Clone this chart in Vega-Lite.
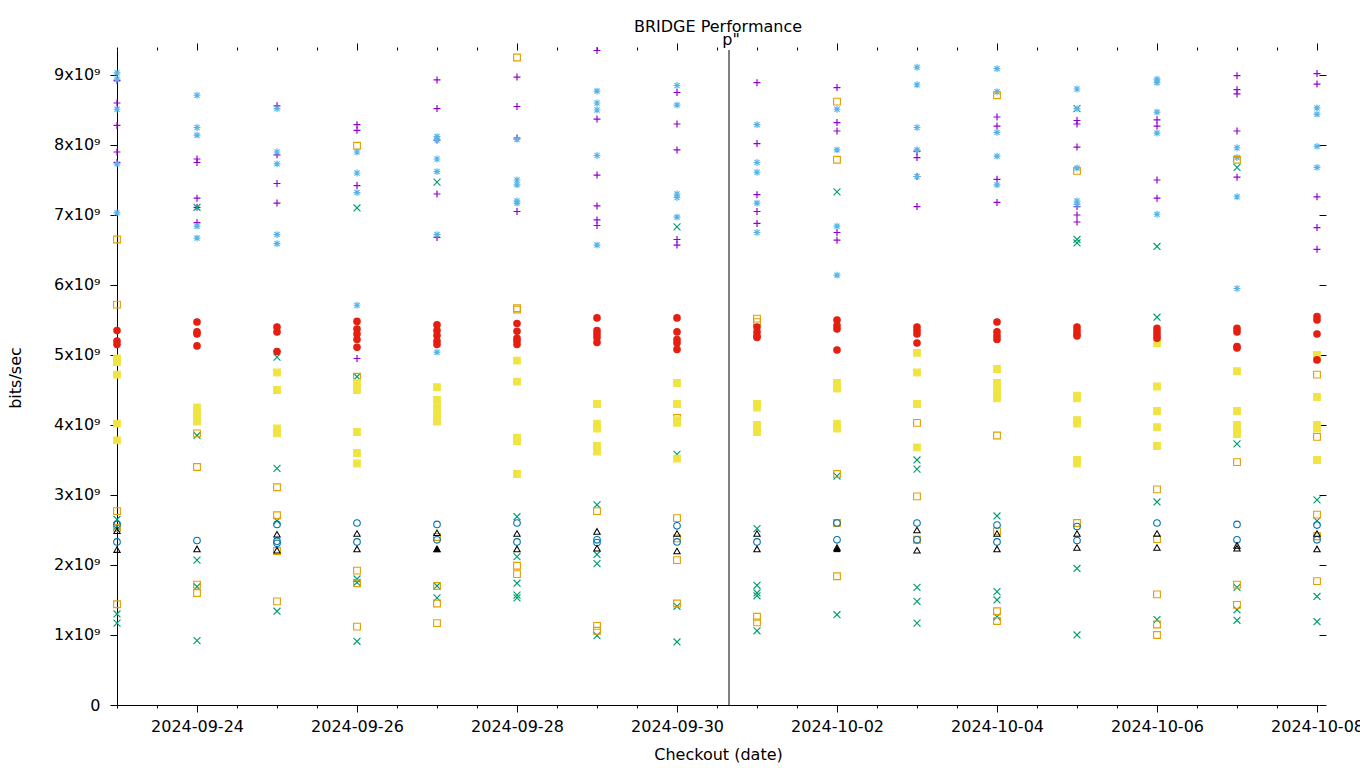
{
"$schema": "https://vega.github.io/schema/vega-lite/v6.json",
"width": 1202,
"height": 655,
"autosize": "none",
"padding": {"left": 117, "top": 50, "right": 41, "bottom": 63},
"title": {"text": "BRIDGE Performance", "frame": "group", "anchor": "middle", "offset": -16, "baseline": "alphabetic", "fontSize": 16, "fontWeight": "normal", "font": "DejaVu Sans", "color": "#000000"},
"config": {
  "view": {"stroke": null},
  "font": "DejaVu Sans",
  "axis": {"labelFont": "DejaVu Sans", "labelFontSize": 16, "labelColor": "#000000", "titleFont": "DejaVu Sans", "titleFontSize": 16, "titleFontWeight": "normal", "titleColor": "#000000", "domainColor": "#000000", "tickColor": "#000000", "grid": false, "domainWidth": 1, "tickWidth": 1}
},
"datasets": {
"pts": [
{"d":"2024-09-23","s":"P","v":8.92},{"d":"2024-09-23","s":"P","v":8.6},{"d":"2024-09-23","s":"P","v":8.28},{"d":"2024-09-23","s":"P","v":7.9},{"d":"2024-09-23","s":"P","v":7.75},
{"d":"2024-09-24","s":"P","v":7.8},{"d":"2024-09-24","s":"P","v":7.75},{"d":"2024-09-24","s":"P","v":7.24},{"d":"2024-09-24","s":"P","v":7.11},{"d":"2024-09-24","s":"P","v":6.89},
{"d":"2024-09-25","s":"P","v":8.56},{"d":"2024-09-25","s":"P","v":7.86},{"d":"2024-09-25","s":"P","v":7.45},{"d":"2024-09-25","s":"P","v":7.17},{"d":"2024-09-25","s":"P","v":5.05},
{"d":"2024-09-26","s":"P","v":8.29},{"d":"2024-09-26","s":"P","v":8.21},{"d":"2024-09-26","s":"P","v":7.42},{"d":"2024-09-26","s":"P","v":4.95},
{"d":"2024-09-27","s":"P","v":8.93},{"d":"2024-09-27","s":"P","v":8.52},{"d":"2024-09-27","s":"P","v":8.07},{"d":"2024-09-27","s":"P","v":7.3},{"d":"2024-09-27","s":"P","v":6.68},
{"d":"2024-09-28","s":"P","v":8.97},{"d":"2024-09-28","s":"P","v":8.55},{"d":"2024-09-28","s":"P","v":8.1},{"d":"2024-09-28","s":"P","v":7.05},
{"d":"2024-09-29","s":"P","v":9.35},{"d":"2024-09-29","s":"P","v":8.37},{"d":"2024-09-29","s":"P","v":7.57},{"d":"2024-09-29","s":"P","v":7.13},{"d":"2024-09-29","s":"P","v":6.93},{"d":"2024-09-29","s":"P","v":6.85},
{"d":"2024-09-30","s":"P","v":8.75},{"d":"2024-09-30","s":"P","v":8.3},{"d":"2024-09-30","s":"P","v":7.93},{"d":"2024-09-30","s":"P","v":6.65},{"d":"2024-09-30","s":"P","v":6.57},
{"d":"2024-10-01","s":"P","v":8.89},{"d":"2024-10-01","s":"P","v":8.02},{"d":"2024-10-01","s":"P","v":7.29},{"d":"2024-10-01","s":"P","v":7.05},{"d":"2024-10-01","s":"P","v":6.88},
{"d":"2024-10-02","s":"P","v":8.82},{"d":"2024-10-02","s":"P","v":8.32},{"d":"2024-10-02","s":"P","v":8.2},{"d":"2024-10-02","s":"P","v":6.75},{"d":"2024-10-02","s":"P","v":6.64},
{"d":"2024-10-03","s":"P","v":7.91},{"d":"2024-10-03","s":"P","v":7.82},{"d":"2024-10-03","s":"P","v":7.55},{"d":"2024-10-03","s":"P","v":7.12},
{"d":"2024-10-04","s":"P","v":8.4},{"d":"2024-10-04","s":"P","v":8.27},{"d":"2024-10-04","s":"P","v":7.51},{"d":"2024-10-04","s":"P","v":7.18},
{"d":"2024-10-05","s":"P","v":8.35},{"d":"2024-10-05","s":"P","v":8.3},{"d":"2024-10-05","s":"P","v":7.97},{"d":"2024-10-05","s":"P","v":7.12},{"d":"2024-10-05","s":"P","v":7.0},{"d":"2024-10-05","s":"P","v":6.9},
{"d":"2024-10-06","s":"P","v":8.36},{"d":"2024-10-06","s":"P","v":8.27},{"d":"2024-10-06","s":"P","v":7.5},{"d":"2024-10-06","s":"P","v":7.24},
{"d":"2024-10-07","s":"P","v":8.99},{"d":"2024-10-07","s":"P","v":8.79},{"d":"2024-10-07","s":"P","v":8.73},{"d":"2024-10-07","s":"P","v":8.2},{"d":"2024-10-07","s":"P","v":7.54},
{"d":"2024-10-08","s":"P","v":9.02},{"d":"2024-10-08","s":"P","v":8.87},{"d":"2024-10-08","s":"P","v":7.26},{"d":"2024-10-08","s":"P","v":6.82},{"d":"2024-10-08","s":"P","v":6.51},

{"d":"2024-09-23","s":"G","v":2.65},{"d":"2024-09-23","s":"G","v":2.55},{"d":"2024-09-23","s":"G","v":1.3},{"d":"2024-09-23","s":"G","v":1.17},
{"d":"2024-09-24","s":"G","v":7.11},{"d":"2024-09-24","s":"G","v":3.85},{"d":"2024-09-24","s":"G","v":2.07},{"d":"2024-09-24","s":"G","v":1.69},{"d":"2024-09-24","s":"G","v":0.92},
{"d":"2024-09-25","s":"G","v":4.97},{"d":"2024-09-25","s":"G","v":3.38},{"d":"2024-09-25","s":"G","v":2.63},{"d":"2024-09-25","s":"G","v":1.34},
{"d":"2024-09-26","s":"G","v":7.1},{"d":"2024-09-26","s":"G","v":4.69},{"d":"2024-09-26","s":"G","v":1.8},{"d":"2024-09-26","s":"G","v":1.75},{"d":"2024-09-26","s":"G","v":0.91},
{"d":"2024-09-27","s":"G","v":7.47},{"d":"2024-09-27","s":"G","v":1.7},{"d":"2024-09-27","s":"G","v":1.53},
{"d":"2024-09-28","s":"G","v":2.69},{"d":"2024-09-28","s":"G","v":2.12},{"d":"2024-09-28","s":"G","v":1.74},{"d":"2024-09-28","s":"G","v":1.57},{"d":"2024-09-28","s":"G","v":1.53},
{"d":"2024-09-29","s":"G","v":2.86},{"d":"2024-09-29","s":"G","v":2.15},{"d":"2024-09-29","s":"G","v":2.02},{"d":"2024-09-29","s":"G","v":0.99},
{"d":"2024-09-30","s":"G","v":6.83},{"d":"2024-09-30","s":"G","v":3.58},{"d":"2024-09-30","s":"G","v":1.41},{"d":"2024-09-30","s":"G","v":0.9},
{"d":"2024-10-01","s":"G","v":2.52},{"d":"2024-10-01","s":"G","v":1.71},{"d":"2024-10-01","s":"G","v":1.6},{"d":"2024-10-01","s":"G","v":1.56},{"d":"2024-10-01","s":"G","v":1.06},
{"d":"2024-10-02","s":"G","v":7.33},{"d":"2024-10-02","s":"G","v":3.27},{"d":"2024-10-02","s":"G","v":1.29},
{"d":"2024-10-03","s":"G","v":3.5},{"d":"2024-10-03","s":"G","v":3.37},{"d":"2024-10-03","s":"G","v":1.68},{"d":"2024-10-03","s":"G","v":1.48},{"d":"2024-10-03","s":"G","v":1.17},
{"d":"2024-10-04","s":"G","v":2.7},{"d":"2024-10-04","s":"G","v":1.62},{"d":"2024-10-04","s":"G","v":1.5},{"d":"2024-10-04","s":"G","v":1.26},
{"d":"2024-10-05","s":"G","v":8.52},{"d":"2024-10-05","s":"G","v":6.65},{"d":"2024-10-05","s":"G","v":6.6},{"d":"2024-10-05","s":"G","v":1.95},{"d":"2024-10-05","s":"G","v":1.0},
{"d":"2024-10-06","s":"G","v":6.55},{"d":"2024-10-06","s":"G","v":5.54},{"d":"2024-10-06","s":"G","v":2.9},{"d":"2024-10-06","s":"G","v":1.22},
{"d":"2024-10-07","s":"G","v":7.68},{"d":"2024-10-07","s":"G","v":3.73},{"d":"2024-10-07","s":"G","v":1.68},{"d":"2024-10-07","s":"G","v":1.36},{"d":"2024-10-07","s":"G","v":1.21},
{"d":"2024-10-08","s":"G","v":2.93},{"d":"2024-10-08","s":"G","v":2.63},{"d":"2024-10-08","s":"G","v":1.55},{"d":"2024-10-08","s":"G","v":1.19},

{"d":"2024-09-23","s":"C","v":9.03},{"d":"2024-09-23","s":"C","v":8.94},{"d":"2024-09-23","s":"C","v":8.51},{"d":"2024-09-23","s":"C","v":7.73},{"d":"2024-09-23","s":"C","v":7.03},
{"d":"2024-09-24","s":"C","v":8.71},{"d":"2024-09-24","s":"C","v":8.25},{"d":"2024-09-24","s":"C","v":8.14},{"d":"2024-09-24","s":"C","v":6.84},{"d":"2024-09-24","s":"C","v":6.67},
{"d":"2024-09-25","s":"C","v":8.52},{"d":"2024-09-25","s":"C","v":7.9},{"d":"2024-09-25","s":"C","v":7.73},{"d":"2024-09-25","s":"C","v":6.72},{"d":"2024-09-25","s":"C","v":6.59},
{"d":"2024-09-26","s":"C","v":7.9},{"d":"2024-09-26","s":"C","v":7.6},{"d":"2024-09-26","s":"C","v":7.32},{"d":"2024-09-26","s":"C","v":5.71},
{"d":"2024-09-27","s":"C","v":8.12},{"d":"2024-09-27","s":"C","v":8.07},{"d":"2024-09-27","s":"C","v":7.8},{"d":"2024-09-27","s":"C","v":7.62},{"d":"2024-09-27","s":"C","v":6.72},{"d":"2024-09-27","s":"C","v":5.04},
{"d":"2024-09-28","s":"C","v":8.08},{"d":"2024-09-28","s":"C","v":7.5},{"d":"2024-09-28","s":"C","v":7.43},{"d":"2024-09-28","s":"C","v":7.2},{"d":"2024-09-28","s":"C","v":7.17},
{"d":"2024-09-29","s":"C","v":8.77},{"d":"2024-09-29","s":"C","v":8.6},{"d":"2024-09-29","s":"C","v":8.5},{"d":"2024-09-29","s":"C","v":7.85},{"d":"2024-09-29","s":"C","v":6.57},
{"d":"2024-09-30","s":"C","v":8.85},{"d":"2024-09-30","s":"C","v":8.57},{"d":"2024-09-30","s":"C","v":7.3},{"d":"2024-09-30","s":"C","v":7.25},{"d":"2024-09-30","s":"C","v":6.97},
{"d":"2024-10-01","s":"C","v":8.29},{"d":"2024-10-01","s":"C","v":7.75},{"d":"2024-10-01","s":"C","v":7.61},{"d":"2024-10-01","s":"C","v":7.17},{"d":"2024-10-01","s":"C","v":6.75},
{"d":"2024-10-02","s":"C","v":8.51},{"d":"2024-10-02","s":"C","v":7.93},{"d":"2024-10-02","s":"C","v":6.84},{"d":"2024-10-02","s":"C","v":6.14},
{"d":"2024-10-03","s":"C","v":9.11},{"d":"2024-10-03","s":"C","v":8.86},{"d":"2024-10-03","s":"C","v":8.25},{"d":"2024-10-03","s":"C","v":7.93},{"d":"2024-10-03","s":"C","v":7.55},
{"d":"2024-10-04","s":"C","v":9.09},{"d":"2024-10-04","s":"C","v":8.76},{"d":"2024-10-04","s":"C","v":8.18},{"d":"2024-10-04","s":"C","v":7.84},{"d":"2024-10-04","s":"C","v":7.43},
{"d":"2024-10-05","s":"C","v":8.8},{"d":"2024-10-05","s":"C","v":8.52},{"d":"2024-10-05","s":"C","v":7.67},{"d":"2024-10-05","s":"C","v":7.2},{"d":"2024-10-05","s":"C","v":7.15},
{"d":"2024-10-06","s":"C","v":8.94},{"d":"2024-10-06","s":"C","v":8.89},{"d":"2024-10-06","s":"C","v":8.47},{"d":"2024-10-06","s":"C","v":8.17},{"d":"2024-10-06","s":"C","v":7.01},
{"d":"2024-10-07","s":"C","v":7.96},{"d":"2024-10-07","s":"C","v":7.82},{"d":"2024-10-07","s":"C","v":7.26},{"d":"2024-10-07","s":"C","v":5.95},
{"d":"2024-10-08","s":"C","v":8.53},{"d":"2024-10-08","s":"C","v":8.44},{"d":"2024-10-08","s":"C","v":7.98},{"d":"2024-10-08","s":"C","v":7.68},

{"d":"2024-09-23","s":"O","v":6.65},{"d":"2024-09-23","s":"O","v":5.72},{"d":"2024-09-23","s":"O","v":2.77},{"d":"2024-09-23","s":"O","v":2.53},{"d":"2024-09-23","s":"O","v":1.44},
{"d":"2024-09-24","s":"O","v":3.88},{"d":"2024-09-24","s":"O","v":3.4},{"d":"2024-09-24","s":"O","v":1.72},{"d":"2024-09-24","s":"O","v":1.6},
{"d":"2024-09-25","s":"O","v":3.11},{"d":"2024-09-25","s":"O","v":2.71},{"d":"2024-09-25","s":"O","v":2.2},{"d":"2024-09-25","s":"O","v":1.48},
{"d":"2024-09-26","s":"O","v":7.99},{"d":"2024-09-26","s":"O","v":4.69},{"d":"2024-09-26","s":"O","v":1.92},{"d":"2024-09-26","s":"O","v":1.74},{"d":"2024-09-26","s":"O","v":1.12},
{"d":"2024-09-27","s":"O","v":2.4},{"d":"2024-09-27","s":"O","v":1.7},{"d":"2024-09-27","s":"O","v":1.45},{"d":"2024-09-27","s":"O","v":1.17},
{"d":"2024-09-28","s":"O","v":9.25},{"d":"2024-09-28","s":"O","v":5.67},{"d":"2024-09-28","s":"O","v":5.65},{"d":"2024-09-28","s":"O","v":1.99},{"d":"2024-09-28","s":"O","v":1.87},
{"d":"2024-09-29","s":"O","v":2.77},{"d":"2024-09-29","s":"O","v":1.13},{"d":"2024-09-29","s":"O","v":1.06},
{"d":"2024-09-30","s":"O","v":4.1},{"d":"2024-09-30","s":"O","v":2.67},{"d":"2024-09-30","s":"O","v":2.38},{"d":"2024-09-30","s":"O","v":2.07},{"d":"2024-09-30","s":"O","v":1.45},
{"d":"2024-10-01","s":"O","v":5.52},{"d":"2024-10-01","s":"O","v":5.47},{"d":"2024-10-01","s":"O","v":1.26},{"d":"2024-10-01","s":"O","v":1.18},
{"d":"2024-10-02","s":"O","v":8.62},{"d":"2024-10-02","s":"O","v":7.79},{"d":"2024-10-02","s":"O","v":3.3},{"d":"2024-10-02","s":"O","v":2.6},{"d":"2024-10-02","s":"O","v":1.84},
{"d":"2024-10-03","s":"O","v":4.03},{"d":"2024-10-03","s":"O","v":2.98},{"d":"2024-10-03","s":"O","v":2.36},
{"d":"2024-10-04","s":"O","v":8.71},{"d":"2024-10-04","s":"O","v":3.85},{"d":"2024-10-04","s":"O","v":2.48},{"d":"2024-10-04","s":"O","v":1.34},{"d":"2024-10-04","s":"O","v":1.2},
{"d":"2024-10-05","s":"O","v":7.63},{"d":"2024-10-05","s":"O","v":2.6},
{"d":"2024-10-06","s":"O","v":3.08},{"d":"2024-10-06","s":"O","v":2.37},{"d":"2024-10-06","s":"O","v":1.58},{"d":"2024-10-06","s":"O","v":1.15},{"d":"2024-10-06","s":"O","v":1.0},
{"d":"2024-10-07","s":"O","v":7.79},{"d":"2024-10-07","s":"O","v":3.47},{"d":"2024-10-07","s":"O","v":1.72},{"d":"2024-10-07","s":"O","v":1.43},
{"d":"2024-10-08","s":"O","v":4.72},{"d":"2024-10-08","s":"O","v":3.83},{"d":"2024-10-08","s":"O","v":2.72},{"d":"2024-10-08","s":"O","v":2.41},{"d":"2024-10-08","s":"O","v":1.77},

{"d":"2024-09-23","s":"Y","v":4.95},{"d":"2024-09-23","s":"Y","v":4.9},{"d":"2024-09-23","s":"Y","v":4.72},{"d":"2024-09-23","s":"Y","v":4.02},{"d":"2024-09-23","s":"Y","v":3.78},
{"d":"2024-09-24","s":"Y","v":4.25},{"d":"2024-09-24","s":"Y","v":4.18},{"d":"2024-09-24","s":"Y","v":4.1},{"d":"2024-09-24","s":"Y","v":4.05},
{"d":"2024-09-25","s":"Y","v":4.75},{"d":"2024-09-25","s":"Y","v":4.5},{"d":"2024-09-25","s":"Y","v":3.95},{"d":"2024-09-25","s":"Y","v":3.88},
{"d":"2024-09-26","s":"Y","v":4.6},{"d":"2024-09-26","s":"Y","v":4.5},{"d":"2024-09-26","s":"Y","v":3.9},{"d":"2024-09-26","s":"Y","v":3.6},{"d":"2024-09-26","s":"Y","v":3.45},
{"d":"2024-09-27","s":"Y","v":4.54},{"d":"2024-09-27","s":"Y","v":4.36},{"d":"2024-09-27","s":"Y","v":4.25},{"d":"2024-09-27","s":"Y","v":4.15},{"d":"2024-09-27","s":"Y","v":4.05},
{"d":"2024-09-28","s":"Y","v":4.92},{"d":"2024-09-28","s":"Y","v":4.62},{"d":"2024-09-28","s":"Y","v":3.82},{"d":"2024-09-28","s":"Y","v":3.77},{"d":"2024-09-28","s":"Y","v":3.3},
{"d":"2024-09-29","s":"Y","v":4.3},{"d":"2024-09-29","s":"Y","v":4.02},{"d":"2024-09-29","s":"Y","v":3.95},{"d":"2024-09-29","s":"Y","v":3.7},{"d":"2024-09-29","s":"Y","v":3.62},
{"d":"2024-09-30","s":"Y","v":4.6},{"d":"2024-09-30","s":"Y","v":4.3},{"d":"2024-09-30","s":"Y","v":4.07},{"d":"2024-09-30","s":"Y","v":4.03},{"d":"2024-09-30","s":"Y","v":3.52},
{"d":"2024-10-01","s":"Y","v":4.3},{"d":"2024-10-01","s":"Y","v":4.25},{"d":"2024-10-01","s":"Y","v":4.0},{"d":"2024-10-01","s":"Y","v":3.95},{"d":"2024-10-01","s":"Y","v":3.9},
{"d":"2024-10-02","s":"Y","v":4.6},{"d":"2024-10-02","s":"Y","v":4.52},{"d":"2024-10-02","s":"Y","v":4.02},{"d":"2024-10-02","s":"Y","v":3.95},
{"d":"2024-10-03","s":"Y","v":5.03},{"d":"2024-10-03","s":"Y","v":4.75},{"d":"2024-10-03","s":"Y","v":4.3},{"d":"2024-10-03","s":"Y","v":3.68},
{"d":"2024-10-04","s":"Y","v":4.8},{"d":"2024-10-04","s":"Y","v":4.6},{"d":"2024-10-04","s":"Y","v":4.52},{"d":"2024-10-04","s":"Y","v":4.42},{"d":"2024-10-04","s":"Y","v":4.38},
{"d":"2024-10-05","s":"Y","v":4.42},{"d":"2024-10-05","s":"Y","v":4.38},{"d":"2024-10-05","s":"Y","v":4.07},{"d":"2024-10-05","s":"Y","v":4.02},{"d":"2024-10-05","s":"Y","v":3.5},{"d":"2024-10-05","s":"Y","v":3.45},
{"d":"2024-10-06","s":"Y","v":5.17},{"d":"2024-10-06","s":"Y","v":4.55},{"d":"2024-10-06","s":"Y","v":4.2},{"d":"2024-10-06","s":"Y","v":3.97},{"d":"2024-10-06","s":"Y","v":3.7},
{"d":"2024-10-07","s":"Y","v":4.77},{"d":"2024-10-07","s":"Y","v":4.2},{"d":"2024-10-07","s":"Y","v":4.0},{"d":"2024-10-07","s":"Y","v":3.93},{"d":"2024-10-07","s":"Y","v":3.87},
{"d":"2024-10-08","s":"Y","v":5.0},{"d":"2024-10-08","s":"Y","v":4.95},{"d":"2024-10-08","s":"Y","v":4.4},{"d":"2024-10-08","s":"Y","v":4.0},{"d":"2024-10-08","s":"Y","v":3.95},{"d":"2024-10-08","s":"Y","v":3.5},

{"d":"2024-09-23","s":"B","v":2.58},{"d":"2024-09-23","s":"B","v":2.33},
{"d":"2024-09-24","s":"B","v":2.35},
{"d":"2024-09-25","s":"B","v":2.58},{"d":"2024-09-25","s":"B","v":2.34},{"d":"2024-09-25","s":"B","v":2.31},
{"d":"2024-09-26","s":"B","v":2.6},{"d":"2024-09-26","s":"B","v":2.33},
{"d":"2024-09-27","s":"B","v":2.58},{"d":"2024-09-27","s":"B","v":2.36},
{"d":"2024-09-28","s":"B","v":2.6},{"d":"2024-09-28","s":"B","v":2.33},
{"d":"2024-09-29","s":"B","v":2.36},{"d":"2024-09-29","s":"B","v":2.32},
{"d":"2024-09-30","s":"B","v":2.56},{"d":"2024-09-30","s":"B","v":2.33},
{"d":"2024-10-01","s":"B","v":2.33},
{"d":"2024-10-02","s":"B","v":2.6},{"d":"2024-10-02","s":"B","v":2.36},
{"d":"2024-10-03","s":"B","v":2.6},{"d":"2024-10-03","s":"B","v":2.36},
{"d":"2024-10-04","s":"B","v":2.57},{"d":"2024-10-04","s":"B","v":2.33},
{"d":"2024-10-05","s":"B","v":2.55},{"d":"2024-10-05","s":"B","v":2.35},
{"d":"2024-10-06","s":"B","v":2.6},
{"d":"2024-10-07","s":"B","v":2.58},{"d":"2024-10-07","s":"B","v":2.36},
{"d":"2024-10-08","s":"B","v":2.57},{"d":"2024-10-08","s":"B","v":2.36},

{"d":"2024-09-23","s":"R","v":5.35},{"d":"2024-09-23","s":"R","v":5.2},{"d":"2024-09-23","s":"R","v":5.15},
{"d":"2024-09-24","s":"R","v":5.47},{"d":"2024-09-24","s":"R","v":5.33},{"d":"2024-09-24","s":"R","v":5.3},{"d":"2024-09-24","s":"R","v":5.13},
{"d":"2024-09-25","s":"R","v":5.4},{"d":"2024-09-25","s":"R","v":5.33},{"d":"2024-09-25","s":"R","v":5.05},
{"d":"2024-09-26","s":"R","v":5.48},{"d":"2024-09-26","s":"R","v":5.37},{"d":"2024-09-26","s":"R","v":5.3},{"d":"2024-09-26","s":"R","v":5.22},{"d":"2024-09-26","s":"R","v":5.11},
{"d":"2024-09-27","s":"R","v":5.43},{"d":"2024-09-27","s":"R","v":5.35},{"d":"2024-09-27","s":"R","v":5.28},{"d":"2024-09-27","s":"R","v":5.2},{"d":"2024-09-27","s":"R","v":5.15},
{"d":"2024-09-28","s":"R","v":5.45},{"d":"2024-09-28","s":"R","v":5.34},{"d":"2024-09-28","s":"R","v":5.24},{"d":"2024-09-28","s":"R","v":5.2},{"d":"2024-09-28","s":"R","v":5.15},
{"d":"2024-09-29","s":"R","v":5.53},{"d":"2024-09-29","s":"R","v":5.35},{"d":"2024-09-29","s":"R","v":5.3},{"d":"2024-09-29","s":"R","v":5.25},{"d":"2024-09-29","s":"R","v":5.18},
{"d":"2024-09-30","s":"R","v":5.53},{"d":"2024-09-30","s":"R","v":5.33},{"d":"2024-09-30","s":"R","v":5.22},{"d":"2024-09-30","s":"R","v":5.17},{"d":"2024-09-30","s":"R","v":5.08},
{"d":"2024-10-01","s":"R","v":5.4},{"d":"2024-10-01","s":"R","v":5.33},{"d":"2024-10-01","s":"R","v":5.27},{"d":"2024-10-01","s":"R","v":5.25},
{"d":"2024-10-02","s":"R","v":5.5},{"d":"2024-10-02","s":"R","v":5.42},{"d":"2024-10-02","s":"R","v":5.37},{"d":"2024-10-02","s":"R","v":5.07},
{"d":"2024-10-03","s":"R","v":5.4},{"d":"2024-10-03","s":"R","v":5.35},{"d":"2024-10-03","s":"R","v":5.3},{"d":"2024-10-03","s":"R","v":5.17},
{"d":"2024-10-04","s":"R","v":5.47},{"d":"2024-10-04","s":"R","v":5.33},{"d":"2024-10-04","s":"R","v":5.27},{"d":"2024-10-04","s":"R","v":5.22},
{"d":"2024-10-05","s":"R","v":5.4},{"d":"2024-10-05","s":"R","v":5.35},{"d":"2024-10-05","s":"R","v":5.3},{"d":"2024-10-05","s":"R","v":5.27},
{"d":"2024-10-06","s":"R","v":5.38},{"d":"2024-10-06","s":"R","v":5.33},{"d":"2024-10-06","s":"R","v":5.28},{"d":"2024-10-06","s":"R","v":5.24},
{"d":"2024-10-07","s":"R","v":5.38},{"d":"2024-10-07","s":"R","v":5.33},{"d":"2024-10-07","s":"R","v":5.12},{"d":"2024-10-07","s":"R","v":5.1},
{"d":"2024-10-08","s":"R","v":5.55},{"d":"2024-10-08","s":"R","v":5.5},{"d":"2024-10-08","s":"R","v":5.3},{"d":"2024-10-08","s":"R","v":4.93},

{"d":"2024-09-23","s":"T","v":2.49},{"d":"2024-09-23","s":"T","v":2.22},
{"d":"2024-09-24","s":"T","v":2.23},
{"d":"2024-09-25","s":"T","v":2.44},{"d":"2024-09-25","s":"T","v":2.21},
{"d":"2024-09-26","s":"T","v":2.45},{"d":"2024-09-26","s":"T","v":2.23},
{"d":"2024-09-27","s":"T","v":2.46},{"d":"2024-09-27","s":"T","v":2.23},
{"d":"2024-09-28","s":"T","v":2.45},{"d":"2024-09-28","s":"T","v":2.23},
{"d":"2024-09-29","s":"T","v":2.48},{"d":"2024-09-29","s":"T","v":2.24},
{"d":"2024-09-30","s":"T","v":2.45},{"d":"2024-09-30","s":"T","v":2.2},
{"d":"2024-10-01","s":"T","v":2.45},{"d":"2024-10-01","s":"T","v":2.23},
{"d":"2024-10-02","s":"T","v":2.25},
{"d":"2024-10-03","s":"T","v":2.5},{"d":"2024-10-03","s":"T","v":2.21},
{"d":"2024-10-04","s":"T","v":2.45},{"d":"2024-10-04","s":"T","v":2.23},
{"d":"2024-10-05","s":"T","v":2.45},{"d":"2024-10-05","s":"T","v":2.25},
{"d":"2024-10-06","s":"T","v":2.45},{"d":"2024-10-06","s":"T","v":2.25},
{"d":"2024-10-07","s":"T","v":2.28},{"d":"2024-10-07","s":"T","v":2.24},
{"d":"2024-10-08","s":"T","v":2.45},{"d":"2024-10-08","s":"T","v":2.23},

{"d":"2024-09-27","s":"K","v":2.23},
{"d":"2024-10-02","s":"K","v":2.23}
]
},
"layer": [
{
  "data": {"name": "pts"},
  "mark": {"type": "point", "opacity": 1},
  "encoding": {
    "x": {"field": "d", "type": "temporal",
      "scale": {"type": "utc", "domain": [1727049600000, 1728347760000], "nice": false},
      "axis": {"orient": "bottom", "title": "Checkout (date)", "titlePadding": 12,
        "values": [1727049600000,1727092800000,1727136000000,1727179200000,1727222400000,1727265600000,1727308800000,1727352000000,1727395200000,1727438400000,1727481600000,1727524800000,1727568000000,1727611200000,1727654400000,1727697600000,1727740800000,1727784000000,1727827200000,1727870400000,1727913600000,1727956800000,1728000000000,1728043200000,1728086400000,1728129600000,1728172800000,1728216000000,1728259200000,1728302400000,1728345600000],
        "labelExpr": "(datum.value - 1727049600000) % 172800000 == 86400000 ? utcFormat(datum.value, '%Y-%m-%d') : ''",
        "labelOverlap": false, "labelFlush": false, "labelPadding": 6,
        "tickSize": {"condition": {"test": "(datum.value - 1727049600000) % 172800000 == 86400000", "value": 7}, "value": 3}
      }},
    "y": {"field": "v", "type": "quantitative",
      "scale": {"domain": [0, 9.357], "nice": false},
      "axis": {"orient": "left", "title": "bits/sec", "titlePadding": 30, "values": [0,1,2,3,4,5,6,7,8,9],
        "labelExpr": "datum.value == 0 ? '0' : datum.value + 'x10⁹'", "tickSize": 7, "labelPadding": 10}},
    "shape": {"field": "s", "type": "nominal", "legend": null,
      "scale": {"domain": ["P","G","C","O","Y","B","R","T","K"],
        "range": ["M-1,0L1,0M0,-1L0,1", "M-1,-1L1,1M-1,1L1,-1", "M-1,0L1,0M0,-1L0,1M-0.75,-0.75L0.75,0.75M-0.75,0.75L0.75,-0.75", "square", "square", "circle", "circle", "triangle-up", "triangle-up"]}},
    "stroke": {"field": "s", "type": "nominal", "legend": null,
      "scale": {"domain": ["P","G","C","O","Y","B","R","T","K"],
        "range": ["#9400d3", "#009e73", "#56b4e9", "#e69f00", "#f0e442", "#0072b2", "#e51e10", "#000000", "#000000"]}},
    "fill": {"field": "s", "type": "nominal", "legend": null,
      "scale": {"domain": ["P","G","C","O","Y","B","R","T","K"],
        "range": ["transparent", "transparent", "transparent", "transparent", "#f0e442", "transparent", "#e51e10", "transparent", "#000000"]}},
    "size": {"field": "s", "type": "nominal", "legend": null,
      "scale": {"domain": ["P","G","C","O","Y","B","R","T","K"], "range": [49, 40, 49, 49, 49, 16, 38, 60, 60]}},
    "strokeWidth": {"field": "s", "type": "nominal", "legend": null,
      "scale": {"domain": ["P","G","C","O","Y","B","R","T","K"], "range": [1.2, 1, 1, 1.3, 0.5, 1.6, 0.5, 1.3, 1]}}
  }
},
{
  "data": {"values": [{"d": "2024-09-30T15:36:00Z", "label": "p\""}]},
  "mark": {"type": "rule", "color": "#000000", "strokeWidth": 1},
  "encoding": {"x": {"field": "d", "type": "temporal", "axis": null}}
},
{
  "data": {"values": [{"d": "2024-09-30T15:36:00Z", "label": "p\""}]},
  "mark": {"type": "text", "fontSize": 16, "font": "DejaVu Sans", "baseline": "alphabetic", "align": "center", "dy": -5, "dx": 2, "color": "#000000"},
  "encoding": {
    "x": {"field": "d", "type": "temporal",
      "axis": {"orient": "top", "title": null, "labels": false, "domain": false,
        "values": [1727049600000,1727092800000,1727136000000,1727179200000,1727222400000,1727265600000,1727308800000,1727352000000,1727395200000,1727438400000,1727481600000,1727524800000,1727568000000,1727611200000,1727654400000,1727697600000,1727740800000,1727784000000,1727827200000,1727870400000,1727913600000,1727956800000,1728000000000,1728043200000,1728086400000,1728129600000,1728172800000,1728216000000,1728259200000,1728302400000,1728345600000],
        "tickSize": {"condition": {"test": "(datum.value - 1727049600000) % 172800000 == 86400000", "value": 7}, "value": 3}}},
    "y": {"datum": 9.357, "type": "quantitative",
      "axis": {"orient": "right", "title": null, "labels": false, "domain": false, "values": [0,1,2,3,4,5,6,7,8,9], "tickSize": 7}},
    "text": {"field": "label"}
  }
}
],
"resolve": {"axis": {"x": "independent", "y": "independent"}}
}
